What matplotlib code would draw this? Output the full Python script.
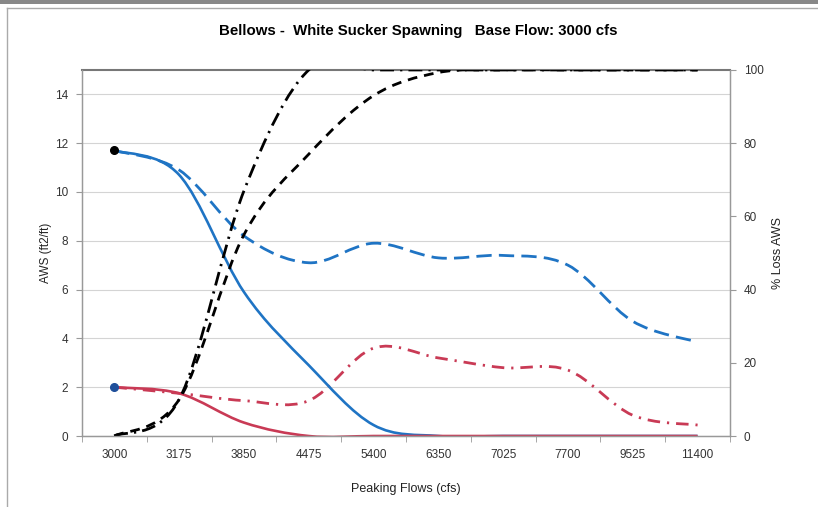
import matplotlib
matplotlib.use("Agg")
import matplotlib.pyplot as plt
import numpy as np
from matplotlib.path import Path
from matplotlib.patches import PathPatch, Rectangle
from matplotlib.lines import Line2D

plt.rcParams['font.family'] = ['Liberation Sans', 'DejaVu Sans']

# peaking flow categories (cfs)
flows = ['3000', '3175', '3850', '4475', '5400', '6350', '7025', '7700', '9525', '11400']

# AWS (ft2/ft) - left axis
aws_blue = [11.7, 10.7, 5.9, 2.9, 0.45, 0.0, 0.0, 0.0, 0.0, 0.0]
aws_blue_dash = [11.7, 10.9, 8.2, 7.1, 7.9, 7.3, 7.4, 7.0, 4.7, 3.85]
aws_red = [2.0, 1.75, 0.55, 0.0, 0.0, 0.0, 0.0, 0.0, 0.0, 0.0]
aws_red_dashdot = [2.0, 1.75, 1.45, 1.45, 3.6, 3.2, 2.8, 2.7, 0.85, 0.45]

# % Loss AWS - right axis
loss_dash = [0, 10, 55, 77, 93, 99.3, 100, 100, 100, 100]
loss_dashdot = [0, 10, 67, 100, 100, 100, 100, 100, 100, 100]

BLUE = '#1f74c4'
RED = '#c93a55'


def smooth_path(xs, ys):
    # Excel-style smoothed line: Catmull-Rom segments as cubic Beziers
    P = np.column_stack([xs, ys]).astype(float)
    n = len(P)
    verts = [P[0]]
    codes = [Path.MOVETO]
    for i in range(n - 1):
        p0 = P[i - 1] if i > 0 else P[i]
        p1, p2 = P[i], P[i + 1]
        p3 = P[i + 2] if i + 2 < n else P[i + 1]
        verts += [p1 + (p2 - p0) / 6, p2 - (p3 - p1) / 6, p2]
        codes += [Path.CURVE4] * 3
    return Path(verts, codes)


def add_curve(ax, ys, color, ls, lw):
    x = np.arange(len(ys))
    patch = PathPatch(smooth_path(x, ys), fill=False, edgecolor=color,
                      linestyle=ls, linewidth=lw, transform=ax.transData,
                      capstyle='butt', joinstyle='round')
    ax.add_patch(patch)


fig = plt.figure(figsize=(8.18, 5.07), dpi=100)
ax = fig.add_axes([0.1002, 0.140, 0.7922, 0.722])
ax2 = ax.twinx()

ax.set_xlim(-0.5, len(flows) - 0.5)
ax.set_ylim(0, 15)
ax2.set_ylim(0, 100)

ax.set_yticks(range(0, 15, 2))
ax2.set_yticks(range(0, 101, 20))
ax.set_xticks(range(len(flows)))
ax.set_xticklabels(flows)
ax.set_xticks(np.arange(-0.5, len(flows), 1), minor=True)
ax.tick_params(axis='x', which='major', length=0, pad=9)
ax.tick_params(axis='x', which='minor', length=4, color='#999999')

for a in (ax, ax2):
    a.tick_params(axis='y', length=4, color='#999999', labelsize=8.5,
                  labelcolor='#333333', pad=6)
    for s in a.spines.values():
        s.set_color('#999999')
        s.set_linewidth(0.9)
ax.tick_params(axis='x', labelsize=8.5, labelcolor='#333333')
ax.spines['top'].set_color('#777777')
ax.spines['top'].set_linewidth(1.5)
ax2.spines['top'].set_visible(False)

ax.yaxis.grid(True, color='#d4d4d4', linewidth=0.8)
ax.set_axisbelow(True)

# left-axis series
add_curve(ax, aws_blue_dash, BLUE, (0, (5.5, 2.6)), 2.0)
add_curve(ax, aws_red_dashdot, RED, (0, (4.5, 2.5, 0.8, 2.5)), 2.0)
add_curve(ax, aws_blue, BLUE, '-', 1.9)
add_curve(ax, aws_red, RED, '-', 1.9)
ax.add_line(Line2D([0], [aws_blue[0]], marker='o', markersize=5.5,
                   color='black', linestyle='none', zorder=5))
ax.add_line(Line2D([0], [aws_red[0]], marker='o', markersize=5.5,
                   color='#1f4f9a', linestyle='none', zorder=5))

# right-axis series
add_curve(ax2, loss_dash, 'black', (0, (3.5, 2.5)), 2.0)
add_curve(ax2, loss_dashdot, 'black', (0, (5, 2.2, 0.8, 2.2)), 2.0)

ax.set_xlabel('Peaking Flows (cfs)', fontsize=9, color='#222222', labelpad=16)
ax.set_ylabel('AWS (ft2/ft)', fontsize=8.5, color='#222222', labelpad=2)
ax2.set_ylabel('% Loss AWS', fontsize=9, color='#222222', labelpad=6)

fig.text(0.511, 0.938, 'Bellows -  White Sucker Spawning   Base Flow: 3000 cfs',
         ha='center', va='center', fontsize=10.8, fontweight='bold')

# outer frame of the chart image
fig.add_artist(Rectangle((0, 0.993), 1, 0.007, transform=fig.transFigure,
                         facecolor='#888888', edgecolor='none'))
fig.add_artist(Line2D([0.009, 1], [0.985, 0.985], transform=fig.transFigure,
                      color='#aaaaaa', linewidth=1))
fig.add_artist(Line2D([0.009, 0.009], [0.0, 0.985], transform=fig.transFigure,
                      color='#aaaaaa', linewidth=1))

fig.savefig('out.png', dpi=100)
